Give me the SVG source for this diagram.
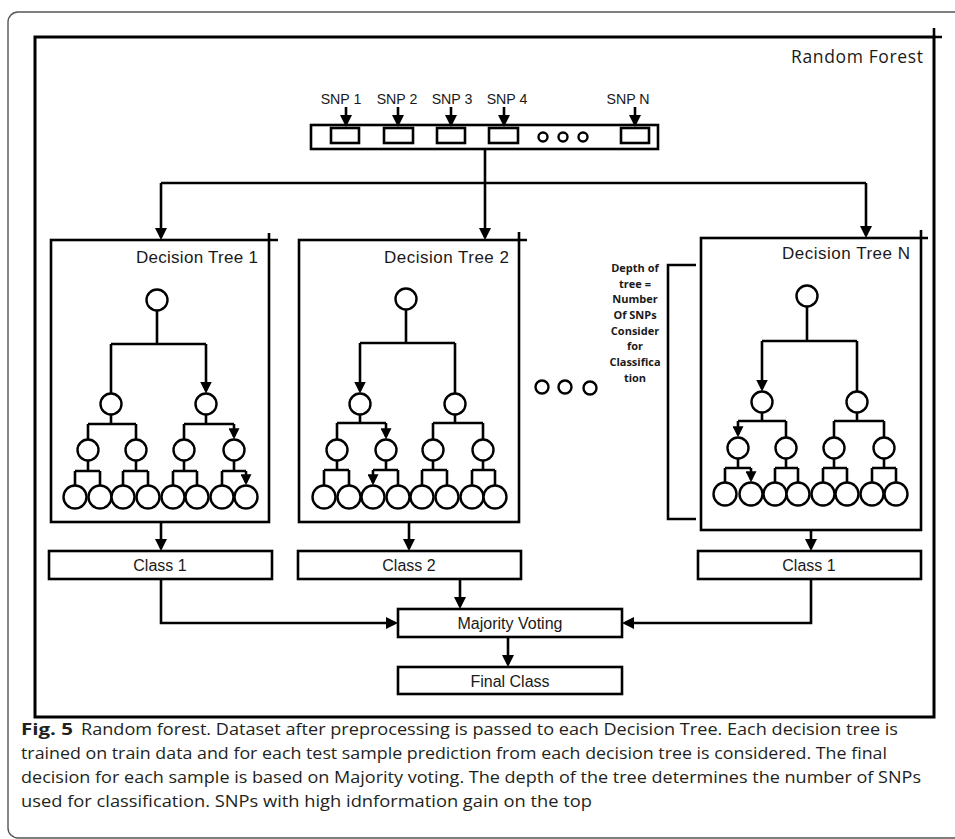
<svg xmlns="http://www.w3.org/2000/svg" width="955" height="839" viewBox="0 0 955 839">
<style>
.ln{fill:none;stroke:#000;stroke-width:2.6}
.ar{fill:none;stroke:#000;stroke-width:2.6;marker-end:url(#ah)}
.nd{fill:#fff;stroke:#000;stroke-width:2.4}
.bx{fill:#fff;stroke:#000;stroke-width:2.6}
.t{font-family:"Liberation Sans",Arial,sans-serif;fill:#1a1a1a}
.h{font-family:"Open Sans","Noto Sans",sans-serif;fill:#1a1a1a}
.d{font-family:"Open Sans","Noto Sans",sans-serif;font-weight:bold;font-size:11px;fill:#1a1a1a;text-anchor:middle}
.c{font-family:"Open Sans","Noto Sans",sans-serif;font-size:16.5px;fill:#231f20}
</style>
<defs>
<marker id="ah" viewBox="0 0 12 12" refX="9" refY="6" markerWidth="12" markerHeight="12" markerUnits="userSpaceOnUse" orient="auto"><path d="M0,0 L12,6 L0,12 z" fill="#000"/></marker>
<marker id="as" viewBox="0 0 12 12" refX="9" refY="6" markerWidth="11" markerHeight="11" markerUnits="userSpaceOnUse" orient="auto"><path d="M0,0 L12,6 L0,12 z" fill="#000"/></marker>
</defs>
<rect width="955" height="839" fill="#fff"/>
<!-- outer rounded frame -->
<rect x="8" y="12" width="1000" height="826" rx="10" fill="none" stroke="#555" stroke-width="1.4"/>
<!-- inner frame -->
<g id="frame">
<rect x="35" y="37" width="899" height="680" fill="none" stroke="#000" stroke-width="3"/>
<path d="M934,37 H942 M934,37 V28" class="ln" stroke-width="3"/>
<text class="h" x="923" y="63" font-size="17.5" text-anchor="end" textLength="132">Random Forest</text>
</g>
<!-- SNP bar -->
<g id="snp-bar">
<rect x="311" y="125" width="347" height="24" class="bx"/>
<rect x="331" y="128" width="28" height="15" class="bx"/>
<rect x="384" y="128" width="29" height="15" class="bx"/>
<rect x="437" y="128" width="28" height="15" class="bx"/>
<rect x="489" y="128" width="29" height="15" class="bx"/>
<rect x="621" y="128" width="28" height="15" class="bx"/>
<circle cx="543" cy="137" r="4.5" class="nd"/>
<circle cx="563" cy="137" r="4.5" class="nd"/>
<circle cx="583" cy="137" r="4.5" class="nd"/>
<g class="t" font-size="14.2" text-anchor="middle">
<text x="341" y="104">SNP 1</text>
<text x="397" y="104">SNP 2</text>
<text x="452" y="104">SNP 3</text>
<text x="507" y="104">SNP 4</text>
<text x="628" y="104">SNP N</text>
</g>
</g>
<!-- Tree 1 -->
<g id="tree1">
<rect x="51" y="240" width="218" height="282" class="bx"/>
<path d="M269,240 H278 M269,240 V233" class="ln"/>
<text class="t" x="258" y="263" font-size="17" text-anchor="end" textLength="122">Decision Tree 1</text>
<path class="ln" d="M157,310.5 V344 M111,344 H206 M111,344 V393.5 M111,414.5 V424 M88,424 H136 M88,424 V439.5 M136,424 V439.5 M206,414.5 V424 M184,424 H234 M184,424 V439.5 M88,460.5 V471 M75,471 H100 M75,471 V485.5 M100,471 V485.5 M136,460.5 V471 M123,471 H148 M123,471 V485.5 M148,471 V485.5 M184,460.5 V471 M173,471 H197 M173,471 V485.5 M197,471 V485.5 M234,460.5 V471 M222,471 H246 M222,471 V485.5"/>
<path class="ar" d="M206,344 V390.5"/>
<path class="ln" d="M234,424 V436.5" marker-end="url(#as)"/>
<path class="ln" d="M246,471 V482.5" marker-end="url(#as)"/>
<g class="nd">
<circle cx="157" cy="300" r="10.5"/>
<circle cx="111" cy="404" r="10.5"/><circle cx="206" cy="404" r="10.5"/>
<circle cx="88" cy="450" r="10.5"/><circle cx="136" cy="450" r="10.5"/><circle cx="184" cy="450" r="10.5"/><circle cx="234" cy="450" r="10.5"/>
<circle cx="75" cy="497" r="11.5"/><circle cx="100" cy="497" r="11.5"/><circle cx="123" cy="497" r="11.5"/><circle cx="148" cy="497" r="11.5"/><circle cx="173" cy="497" r="11.5"/><circle cx="197" cy="497" r="11.5"/><circle cx="222" cy="497" r="11.5"/><circle cx="246" cy="497" r="11.5"/>
</g>
</g>
<!-- Tree 2 -->
<g id="tree2">
<rect x="299" y="240" width="220" height="282" class="bx"/>
<path d="M519,240 H527 M519,240 V232" class="ln"/>
<text class="t" x="509" y="263" font-size="17" text-anchor="end" textLength="125">Decision Tree 2</text>
<path class="ln" d="M406,309.5 V343 M360,343 H455 M455,343 V393.5 M360,414.5 V423 M337,423 H386 M337,423 V439.5 M455,414.5 V423 M433,423 H483 M433,423 V439.5 M483,423 V439.5 M337,460.5 V470 M324,470 H349 M324,470 V485.5 M349,470 V485.5 M386,460.5 V470 M373,470 H398 M398,470 V485.5 M433,460.5 V470 M422,470 H447 M422,470 V485.5 M447,470 V485.5 M483,460.5 V470 M472,470 H495 M472,470 V485.5 M495,470 V485.5"/>
<path class="ar" d="M360,343 V390.5"/>
<path class="ln" d="M386,423 V436.5" marker-end="url(#as)"/>
<path class="ln" d="M373,470 V482.5" marker-end="url(#as)"/>
<g class="nd">
<circle cx="406" cy="299" r="10.5"/>
<circle cx="360" cy="404" r="10.5"/><circle cx="455" cy="404" r="10.5"/>
<circle cx="337" cy="450" r="10.5"/><circle cx="386" cy="450" r="10.5"/><circle cx="433" cy="450" r="10.5"/><circle cx="483" cy="450" r="10.5"/>
<circle cx="324" cy="497" r="11.5"/><circle cx="349" cy="497" r="11.5"/><circle cx="373" cy="497" r="11.5"/><circle cx="398" cy="497" r="11.5"/><circle cx="422" cy="497" r="11.5"/><circle cx="447" cy="497" r="11.5"/><circle cx="472" cy="497" r="11.5"/><circle cx="495" cy="497" r="11.5"/>
</g>
</g>
<!-- ellipsis -->
<g id="ellipsis" class="nd" stroke-width="2.5">
<circle cx="542" cy="387" r="6.5"/><circle cx="565" cy="387" r="6.5"/><circle cx="590" cy="388" r="6.5"/>
</g>
<!-- depth annotation -->
<g id="depth-note">
<path class="ln" d="M696,265 H668 V519 H696"/>
<text class="d" x="635" y="272">Depth of</text>
<text class="d" x="635" y="288">tree  =</text>
<text class="d" x="635" y="303">Number</text>
<text class="d" x="635" y="319">Of SNPs</text>
<text class="d" x="635" y="335">Consider</text>
<text class="d" x="635" y="350">for</text>
<text class="d" x="635" y="366">Classifica</text>
<text class="d" x="635" y="382">tion</text>
</g>
<!-- Tree N -->
<g id="treeN">
<rect x="701" y="238" width="220" height="292" class="bx"/>
<path d="M921,238 H928 M921,238 V230" class="ln"/>
<text class="t" x="910" y="259" font-size="17" text-anchor="end" textLength="128">Decision Tree N</text>
<path class="ln" d="M807,306.5 V341 M762,341 H857 M857,341 V391.5 M762,412.5 V421 M738,421 H786 M786,421 V437.5 M857,412.5 V421 M834,421 H884 M834,421 V437.5 M884,421 V437.5 M738,458.5 V468 M725,468 H751 M725,468 V482.5 M786,458.5 V468 M775,468 H798 M775,468 V482.5 M798,468 V482.5 M834,458.5 V468 M823,468 H847 M823,468 V482.5 M847,468 V482.5 M884,458.5 V468 M872,468 H896 M872,468 V482.5 M896,468 V482.5"/>
<path class="ar" d="M762,341 V388.5"/>
<path class="ln" d="M738,421 V434.5" marker-end="url(#as)"/>
<path class="ln" d="M751,468 V479.5" marker-end="url(#as)"/>
<g class="nd">
<circle cx="807" cy="296" r="10.5"/>
<circle cx="762" cy="402" r="10.5"/><circle cx="857" cy="402" r="10.5"/>
<circle cx="738" cy="448" r="10.5"/><circle cx="786" cy="448" r="10.5"/><circle cx="834" cy="448" r="10.5"/><circle cx="884" cy="448" r="10.5"/>
<circle cx="725" cy="494" r="11.5"/><circle cx="751" cy="494" r="11.5"/><circle cx="775" cy="494" r="11.5"/><circle cx="798" cy="494" r="11.5"/><circle cx="823" cy="494" r="11.5"/><circle cx="847" cy="494" r="11.5"/><circle cx="872" cy="494" r="11.5"/><circle cx="896" cy="494" r="11.5"/>
</g>
</g>
<!-- class boxes -->
<g id="class1a"><rect x="49" y="551" width="223" height="28" class="bx"/><text class="t" x="160" y="571" font-size="16" text-anchor="middle">Class 1</text></g>
<g id="class2"><rect x="298" y="551" width="223" height="28" class="bx"/><text class="t" x="409" y="571" font-size="16" text-anchor="middle">Class 2</text></g>
<g id="class1b"><rect x="698" y="551" width="223" height="28" class="bx"/><text class="t" x="809" y="571" font-size="16" text-anchor="middle">Class 1</text></g>
<g id="majority"><rect x="398" y="609" width="224" height="28" class="bx"/><text class="t" x="510" y="629" font-size="16" text-anchor="middle">Majority Voting</text></g>
<g id="final"><rect x="398" y="667" width="224" height="27" class="bx"/><text class="t" x="510" y="686.5" font-size="16" text-anchor="middle">Final Class</text></g>
<!-- connectors -->
<g id="connectors">
<path class="ar" d="M346,107 V124" marker-end="url(#as)"/>
<path class="ar" d="M398,107 V124" marker-end="url(#as)"/>
<path class="ar" d="M451,107 V124" marker-end="url(#as)"/>
<path class="ar" d="M504,107 V124" marker-end="url(#as)"/>
<path class="ar" d="M635,107 V124" marker-end="url(#as)"/>
<path class="ln" d="M161,183 H866"/>
<path class="ar" d="M485,149 V237"/>
<path class="ar" d="M161,183 V237"/>
<path class="ar" d="M866,183 V235"/>
<path class="ar" d="M161,522 V548"/>
<path class="ar" d="M409,522 V548"/>
<path class="ar" d="M811,530 V548"/>
<path class="ar" d="M460,579 V606"/>
<path class="ar" d="M161,579 V623 H395"/>
<path class="ar" d="M811,579 V623 H625"/>
<path class="ar" d="M508,637 V664"/>
</g>
<!-- caption -->
<g id="caption">
<text class="c" x="21" y="735" font-weight="bold" textLength="52" lengthAdjust="spacingAndGlyphs">Fig. 5</text>
<text class="c" x="81" y="735" textLength="817" lengthAdjust="spacingAndGlyphs">Random forest. Dataset after preprocessing is passed to each Decision Tree. Each decision tree is</text>
<text class="c" x="21" y="759" textLength="866" lengthAdjust="spacingAndGlyphs">trained on train data and for each test sample prediction from each decision tree is considered. The final</text>
<text class="c" x="21" y="783" textLength="900" lengthAdjust="spacingAndGlyphs">decision for each sample is based on Majority voting. The depth of the tree determines the number of SNPs</text>
<text class="c" x="21" y="807" textLength="571" lengthAdjust="spacingAndGlyphs">used for classification. SNPs with high idnformation gain on the top</text>
</g>
</svg>
